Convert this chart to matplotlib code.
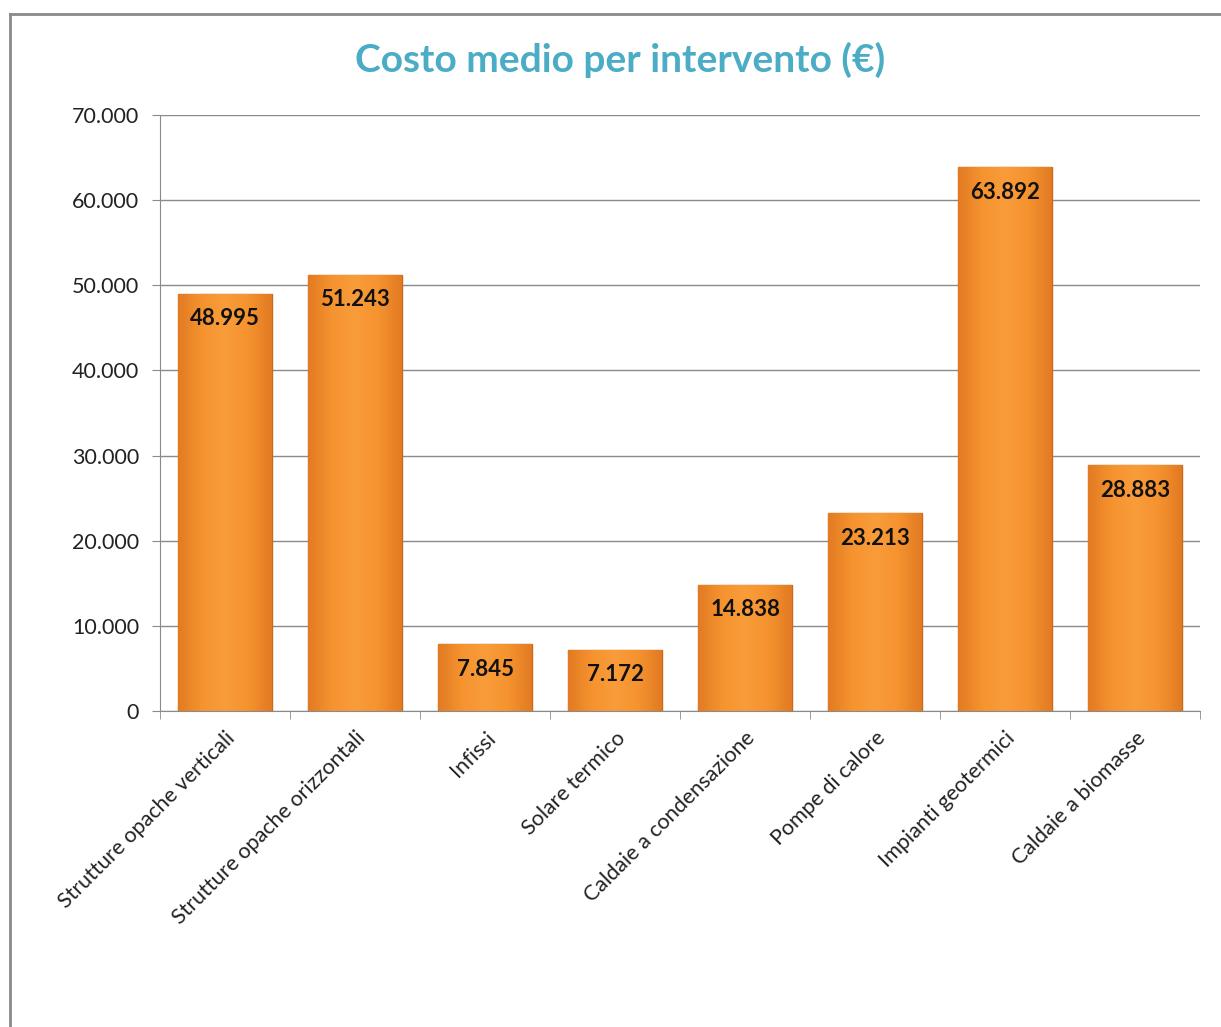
import numpy as np
import matplotlib
matplotlib.use("Agg")
from matplotlib import pyplot as plt
from matplotlib.lines import Line2D
from matplotlib.colors import LinearSegmentedColormap

categorie = [
    "Strutture opache verticali",
    "Strutture opache orizzontali",
    "Infissi",
    "Solare termico",
    "Caldaie a condensazione",
    "Pompe di calore",
    "Impianti geotermici",
    "Caldaie a biomasse",
]
costi = [48995, 51243, 7845, 7172, 14838, 23213, 63892, 28883]
etichette = ["48.995", "51.243", "7.845", "7.172", "14.838", "23.213", "63.892", "28.883"]
y_ticks = [0, 10000, 20000, 30000, 40000, 50000, 60000, 70000]
y_labels = ["0", "10.000", "20.000", "30.000", "40.000", "50.000", "60.000", "70.000"]

plt.rcParams["font.family"] = ["Lato", "DejaVu Sans"]

fig = plt.figure(figsize=(12.21, 10.27), dpi=100)
ax = fig.add_axes([0.131, 0.3077, 0.852, 0.5803])

x = np.arange(len(categorie))
bars = ax.bar(x, costi, width=0.72, color="#F28C2C", edgecolor="#C8681C", linewidth=1.0, zorder=2)

# orange gradient inside each bar (darker edges, light centre)
cmap = LinearSegmentedColormap.from_list("arancio", ["#E27A22", "#F5932F", "#F99C3A", "#F5932F", "#E27A22"])
grad = np.linspace(0, 1, 256).reshape(1, -1)
for b in bars:
    im = ax.imshow(grad, cmap=cmap, aspect="auto", zorder=2.5,
                   extent=[b.get_x(), b.get_x() + b.get_width(), 0, b.get_height()])
    im.set_clip_path(b)

for xi, v, t in zip(x, costi, etichette):
    ax.annotate(t, (xi, v), xytext=(0, -25), textcoords="offset pixels",
                ha="center", va="center", fontsize=16, fontweight="bold", color="#111111", zorder=4)

ax.set_xlim(-0.5, len(categorie) - 0.5)
ax.set_ylim(0, 70000)
ax.set_yticks(y_ticks)
ax.set_yticklabels(y_labels, fontsize=15.5, color="#222222")
ax.yaxis.grid(True, color="#8a8a8a", linewidth=1.0, zorder=1)
ax.set_axisbelow(True)

ax.set_xticks(x)
ax.set_xticklabels(categorie, rotation=45, ha="right", rotation_mode="anchor", fontsize=15.5, color="#222222")
ax.tick_params(axis="x", length=0, pad=12)
ax.set_xticks(np.arange(len(categorie) + 1) - 0.5, minor=True)
ax.tick_params(axis="x", which="minor", length=6, color="#8a8a8a")
ax.tick_params(axis="y", length=6, color="#8a8a8a", pad=9)

for s in ["top", "right"]:
    ax.spines[s].set_visible(False)
ax.spines["left"].set_color("#8a8a8a")
ax.spines["bottom"].set_color("#8a8a8a")

fig.text(0.508, 0.9416, "Costo medio per intervento (€)", ha="center", va="center",
         fontsize=28, fontweight="bold", color="#4BACC6")

# chart frame
fig.add_artist(Line2D([0.0082, 0.0082], [0, 0.986], color="#8a8a8a", linewidth=2))
fig.add_artist(Line2D([0.0082, 1], [0.986, 0.986], color="#8a8a8a", linewidth=2))

fig.savefig("out.png", dpi=100)
